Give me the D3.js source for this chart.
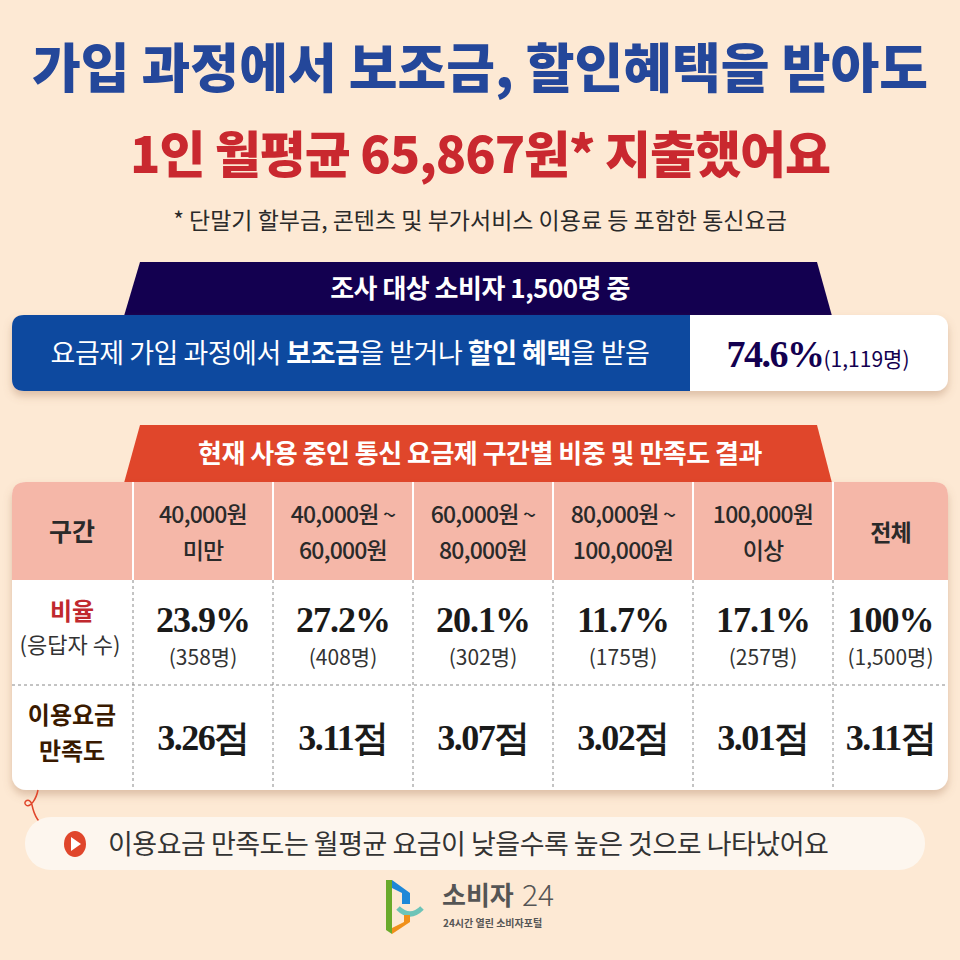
<html>
<head></head>
<body style="margin:0">
    <div id="container"></div>
</body>
<script src="https://d3js.org/d3.v7.min.js"></script>
<script>
    // Chart data
    const bands = ["40,000원|미만", "40,000원 ~|60,000원", "60,000원 ~|80,000원", "80,000원 ~|100,000원", "100,000원|이상", "전체"]
    const shares = ["23.9%", "27.2%", "20.1%", "11.7%", "17.1%", "100%"]
    const counts = ["(358명)", "(408명)", "(302명)", "(175명)", "(257명)", "(1,500명)"]
    const scores = ["3.26점", "3.11점", "3.07점", "3.02점", "3.01점", "3.11점"]

    const FONT = "'Noto Sans CJK KR', 'Noto Sans', sans-serif"
    const SERIF = "'Liberation Serif', 'DejaVu Serif', serif"

    let svg = d3.select("#container").append("svg")
        .attr("width", 960).attr("height", 960)
        .style("font-family", FONT)
    svg.append("rect").attr("width", 960).attr("height", 960).attr("fill", "#fde9d4")

    let defs = svg.append("defs")
    let f = defs.append("filter").attr("id", "sh").attr("x", "-5%").attr("y", "-10%").attr("width", "110%").attr("height", "130%")
    f.append("feDropShadow").attr("dx", 0).attr("dy", 5).attr("stdDeviation", 4).attr("flood-color", "#a07050").attr("flood-opacity", 0.35)

    // Titles
    svg.append("text").attr("x", 480).attr("y", 88).attr("text-anchor", "middle")
        .attr("font-size", 53).attr("font-weight", 900).attr("fill", "#24479a")
        .text("가입 과정에서 보조금, 할인혜택을 받아도")
    svg.append("text").attr("x", 480).attr("y", 173).attr("text-anchor", "middle")
        .attr("font-size", 50).attr("font-weight", 900).attr("fill", "#c9282f").attr("letter-spacing", -1)
        .text("1인 월평균 65,867원* 지출했어요")
    svg.append("text").attr("x", 480).attr("y", 229).attr("text-anchor", "middle")
        .attr("font-size", 23).attr("fill", "#2a2a2a")
        .text("* 단말기 할부금, 콘텐츠 및 부가서비스 이용료 등 포함한 통신요금")

    // Helper: trapezoid banner
    function banner(y0, y1, color, label) {
        svg.append("path").attr("d", `M140,${y0} L817,${y0} L832,${y1} L124,${y1} Z`).attr("fill", color)
        svg.append("text").attr("x", 480).attr("y", (y0 + y1) / 2 + 9).attr("text-anchor", "middle")
            .attr("font-size", 26).attr("font-weight", 700).attr("fill", "white").attr("letter-spacing", -0.5).text(label)
    }

    banner(262, 316, "#130050", "조사 대상 소비자 1,500명 중")

    // Blue summary box
    let g = svg.append("g").attr("filter", "url(#sh)")
    g.append("rect").attr("x", 12).attr("y", 315).attr("width", 936).attr("height", 76).attr("rx", 12).attr("fill", "white")
    g.append("path").attr("d", "M24,315 L690,315 L690,391 L24,391 Q12,391 12,379 L12,327 Q12,315 24,315 Z").attr("fill", "#0d4a9f")
    let t = svg.append("text").attr("x", 350).attr("y", 363).attr("text-anchor", "middle")
        .attr("font-size", 27).attr("fill", "white").attr("letter-spacing", -0.5)
    t.append("tspan").text("요금제 가입 과정에서 ")
    t.append("tspan").attr("font-weight", 700).text("보조금")
    t.append("tspan").text("을 받거나 ")
    t.append("tspan").attr("font-weight", 700).text("할인 혜택")
    t.append("tspan").text("을 받음")
    let p = svg.append("text").attr("x", 818).attr("y", 367).attr("text-anchor", "middle").attr("fill", "#130050")
    p.append("tspan").attr("font-family", SERIF).attr("font-size", 38).attr("font-weight", 700).attr("letter-spacing", -1.5).text("74.6%")
    p.append("tspan").attr("font-size", 21).text("(1,119명)")

    banner(425, 483, "#e0462b", "현재 사용 중인 통신 요금제 구간별 비중 및 만족도 결과")

    // Table
    const rowY = [482, 580, 685, 790]
    let x = d3.scaleBand().domain(bands).range([133, 973]).paddingInner(0).paddingOuter(0)
    let tbl = svg.append("g")
    tbl.append("rect").attr("x", 12).attr("y", 482).attr("width", 936).attr("height", 308).attr("rx", 14)
        .attr("fill", "white").attr("filter", "url(#sh)")
    tbl.append("path").attr("d", "M12,580 L12,496 Q12,482 26,482 L934,482 Q948,482 948,496 L948,580 Z").attr("fill", "#f5b7a8")

    // vertical dividers
    bands.forEach(b => {
        tbl.append("line").attr("x1", x(b)).attr("x2", x(b)).attr("y1", 482).attr("y2", 580)
            .attr("stroke", "white").attr("stroke-width", 2)
        tbl.append("line").attr("x1", x(b)).attr("x2", x(b)).attr("y1", 580).attr("y2", 790)
            .attr("stroke", "#888").attr("stroke-dasharray", "3,3")
    })
    tbl.append("line").attr("x1", 12).attr("x2", 948).attr("y1", rowY[2]).attr("y2", rowY[2])
        .attr("stroke", "#888").attr("stroke-dasharray", "3,3")

    function colCenter(b) {
        let c = x(b) + x.bandwidth() / 2
        return b === "전체" ? (x(b) + 948) / 2 : c
    }

    // header row
    tbl.append("text").attr("x", 72).attr("y", 541).attr("text-anchor", "middle")
        .attr("font-size", 25).attr("font-weight", 700).attr("fill", "#2a2a2a").text("구간")
    bands.forEach(b => {
        let lines = b.split("|")
        let tx = tbl.append("text").attr("text-anchor", "middle").attr("font-size", 23).attr("letter-spacing", -0.8)
            .attr("fill", "#2a2a2a").attr("font-weight", b === "전체" ? 700 : 500)
        lines.forEach((l, i) => {
            tx.append("tspan").attr("x", colCenter(b))
                .attr("y", lines.length === 1 ? 541 : 523 + i * 36).text(l)
        })
    })

    // row labels
    tbl.append("text").attr("x", 72).attr("y", 620).attr("text-anchor", "middle")
        .attr("font-size", 24).attr("font-weight", 700).attr("fill", "#c0282e").text("비율")
    tbl.append("text").attr("x", 70).attr("y", 653).attr("text-anchor", "middle")
        .attr("font-size", 22).attr("fill", "#333").text("(응답자 수)")
    tbl.append("text").attr("x", 72).attr("y", 724).attr("text-anchor", "middle")
        .attr("font-size", 24).attr("font-weight", 700).attr("fill", "#3a1a00").text("이용요금")
    tbl.append("text").attr("x", 72).attr("y", 760).attr("text-anchor", "middle")
        .attr("font-size", 24).attr("font-weight", 700).attr("fill", "#3a1a00").text("만족도")

    bands.forEach((b, i) => {
        tbl.append("text").attr("x", colCenter(b)).attr("y", 632).attr("text-anchor", "middle")
            .attr("font-family", SERIF).attr("font-size", 36).attr("font-weight", 700).attr("letter-spacing", -1)
            .attr("fill", "#1a1a1a").text(shares[i])
        tbl.append("text").attr("x", colCenter(b)).attr("y", 665).attr("text-anchor", "middle")
            .attr("font-size", 21).attr("fill", "#333").text(counts[i])
        tbl.append("text").attr("x", colCenter(b)).attr("y", 750).attr("text-anchor", "middle")
            .attr("font-family", SERIF).attr("font-size", 36).attr("font-weight", 700).attr("letter-spacing", -1.5)
            .attr("fill", "#1a1a1a").text(scores[i])
    })

    // arrow doodle
    svg.append("path").attr("d", "M38,790 C36,800 30,808 26,805 C22,802 30,796 32,805 C34,815 38,824 52,832")
        .attr("fill", "none").attr("stroke", "#e0462b").attr("stroke-width", 1.5)
    svg.append("path").attr("d", "M44,833 L53,833 L52,824").attr("fill", "none").attr("stroke", "#e0462b").attr("stroke-width", 1.5)

    // footer note
    svg.append("rect").attr("x", 25).attr("y", 817).attr("width", 900).attr("height", 53).attr("rx", 26).attr("fill", "#fdf6ee")
    svg.append("ellipse").attr("cx", 75).attr("cy", 844).attr("rx", 11).attr("ry", 13).attr("fill", "#e0462b")
    svg.append("path").attr("d", "M71,837 L81,844 L71,851 Z").attr("fill", "white")
    svg.append("text").attr("x", 108).attr("y", 854).attr("font-size", 27).attr("fill", "#333").attr("letter-spacing", -0.5)
        .text("이용요금 만족도는 월평균 요금이 낮을수록 높은 것으로 나타났어요")

    // logo
    let lg = svg.append("g")
    lg.append("path").attr("d", "M386,880 L392,880 L392,934 L386,930 Z").attr("fill", "#6aaa2a")
    lg.append("path").attr("d", "M392,880 L410,893 L410,904 L402,904 L402,893 L392,888 Z").attr("fill", "#1e88d8")
    lg.append("path").attr("d", "M398,908 Q410,920 422,908").attr("fill", "none").attr("stroke", "#6cc4b8").attr("stroke-width", 5)
    lg.append("path").attr("d", "M392,934 L410,922 L410,915 L404,915 L404,922 L392,928 Z").attr("fill", "#f0901a")
    lg.append("text").attr("x", 442).attr("y", 905).attr("font-size", 26).attr("font-weight", 700).attr("fill", "#555").text("소비자")
    lg.append("text").attr("x", 522).attr("y", 906).attr("font-size", 30).attr("font-weight", 300).attr("fill", "#555").text("24")
    lg.append("text").attr("x", 443).attr("y", 927).attr("font-size", 10).attr("font-weight", 700).attr("fill", "#555").text("24시간 열린 소비자포털")
</script>
</html>
